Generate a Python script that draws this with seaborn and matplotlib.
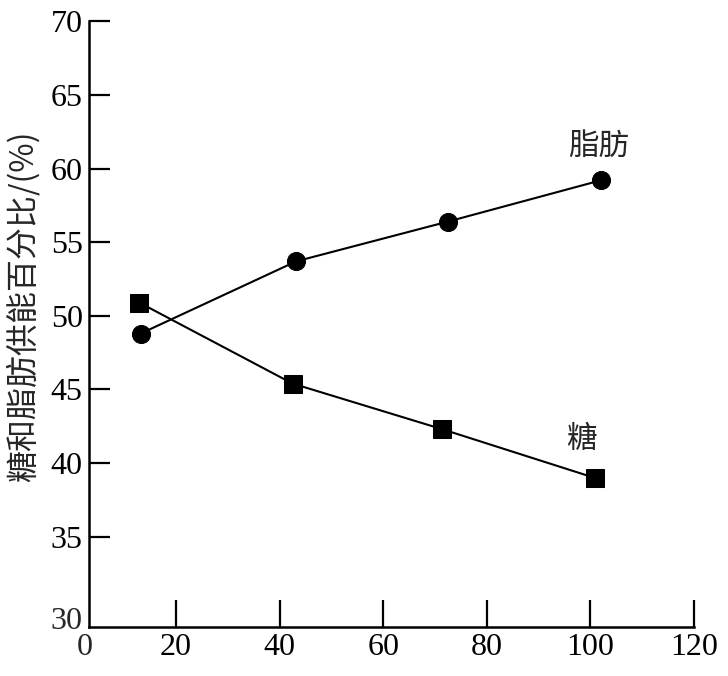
import matplotlib
matplotlib.use("Agg")
import matplotlib.pyplot as plt
import seaborn as sns
import pandas as pd

fat_x = [13.2, 43.2, 72.5, 102.0]
fat_y = [48.8, 53.7, 56.4, 59.2]
sugar_x = [12.9, 42.5, 71.4, 100.8]
sugar_y = [50.9, 45.4, 42.3, 39.0]
series_names = ["脂肪", "糖"]
x_ticks = [20, 40, 60, 80, 100, 120]
y_ticks = [35, 40, 45, 50, 55, 60, 65, 70]
origin_x_label = "0"
origin_y_label = "30"
y_label = "糖和脂肪供能百分比/(%)"

sns.set_theme(style="ticks")
plt.rcParams['font.family'] = ['Liberation Serif', 'Noto Sans CJK SC', 'DejaVu Sans']
cjk = ['Noto Sans CJK SC', 'DejaVu Sans']

fat_df = pd.DataFrame({"x": fat_x, "y": fat_y})
sugar_df = pd.DataFrame({"x": sugar_x, "y": sugar_y})

fig = plt.figure(figsize=(7.28, 6.76), dpi=100)
fig.patch.set_facecolor("white")
ax = fig.add_axes([89/728, 1 - 627/676, (694 - 89)/728, (627 - 21.3)/676])
ax.set_facecolor("white")

sns.lineplot(data=fat_df, x="x", y="y", color="black", marker="o", markersize=13,
             markeredgecolor="black", linewidth=1.5, sort=False, ax=ax)
sns.lineplot(data=sugar_df, x="x", y="y", color="black", marker="s", markersize=12.5,
             markeredgecolor="black", linewidth=1.5, sort=False, ax=ax)

# origin corner is compressed in the original (like an axis break)
ax.set_xlim(3.2, 120)
ax.set_ylim(28.87, 70)
ax.set_xticks(x_ticks)
ax.set_yticks(y_ticks)
ax.set_xticklabels([str(t) for t in x_ticks], fontsize=23)
ax.set_yticklabels([str(t) for t in y_ticks], fontsize=23)
ax.tick_params(axis="y", direction="in", length=15, width=1.6, pad=4.5, colors="black")
ax.tick_params(axis="x", direction="in", length=19.5, width=1.6, pad=4, colors="black")
for sp in ["top", "right"]:
    ax.spines[sp].set_visible(False)
for sp in ["left", "bottom"]:
    ax.spines[sp].set_linewidth(1.8)
    ax.spines[sp].set_color("black")

ax.annotate(origin_x_label, xy=(0, 0), xycoords="axes fraction", xytext=(-3.2, -4),
            textcoords="offset points", ha="center", va="top", fontsize=23)
ax.annotate(origin_y_label, xy=(0, 0), xycoords="axes fraction", xytext=(-4.5, 4),
            textcoords="offset points", ha="right", va="center", fontsize=23)

ax.set_xlabel("")
ax.set_ylabel(y_label, fontsize=23, family=cjk)
ax.yaxis.set_label_coords(-0.082, 0.53)

ax.text(101.6, 61.5, series_names[0], fontsize=22, ha="center", va="center", family=cjk)
ax.text(98.2, 41.6, series_names[1], fontsize=22, ha="center", va="center", family=cjk)

fig.savefig("out.png", dpi=100, facecolor="white")
